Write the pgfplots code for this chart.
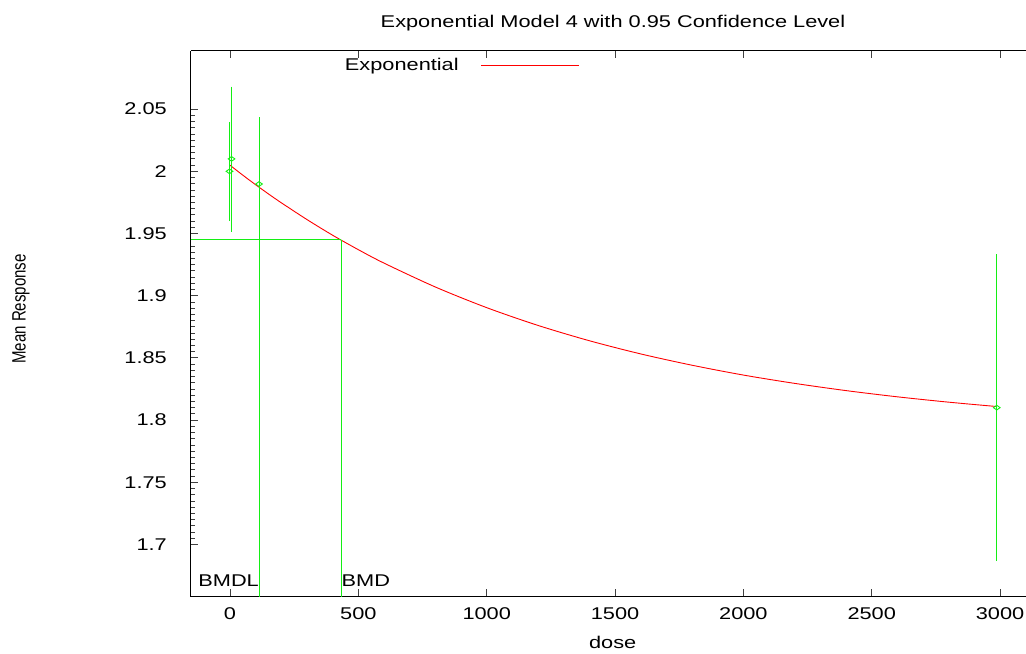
\documentclass[border=0pt]{standalone}
\usepackage{fontspec}
\setmainfont{Liberation Sans}
\newfontfamily\widefont[FakeStretch=1.28]{Liberation Sans}
\newfontfamily\narrowfont[FakeStretch=0.78]{Liberation Sans}
\usepackage{pgfplots}
\pgfplotsset{compat=1.18}
\usetikzlibrary{calc}
\definecolor{gpgreen}{RGB}{20,238,20}
\definecolor{gpred}{RGB}{255,0,0}
\newcommand\wf{\widefont\fontsize{17}{20}\selectfont}

\pgfplotstableread{
x y ep em
-2 2.000 0.031 0.0315
6 2.010 0.0496 0.0503
113 1.9898 0.0452 0.0451
2987 1.810 0.115 0.115
}\obsdata

\begin{document}
\begin{tikzpicture}
\begin{axis}[name=ax, scale only axis, width=835pt, height=546pt,
  xmin=-152, xmax=3101, ymin=1.658, ymax=2.097,
  axis x line=box, axis y line=left,
  axis line style={-, line width=1pt, black},
  tick align=inside,
  xtick={0,500,1000,1500,2000,2500,3000},
  ytick={1.7,1.75,1.8,1.85,1.9,1.95,2,2.05},
  minor y tick num=9,
  major tick length=7.5pt, minor tick length=4.5pt,
  tick style={line width=0.8pt, black!75},
  /pgf/number format/1000 sep={},
  /pgf/number format/assume math mode=true,
  ticklabel style={font=\wf, inner sep=0pt},
  yticklabel style={xshift=-24pt},
  xticklabel style={yshift=-11pt},
  clip mode=individual,
  legend style={at={(0.1844,0.9738)}, anchor=west, draw=none, fill=none,
    inner sep=0pt, outer sep=0pt, font=\wf, nodes={inner sep=0pt}, column sep=22pt},
  legend plot pos=right,
  legend image code/.code={\draw[#1] (0pt,0pt) -- (98pt,0pt);},
]
\addplot[gpred, line width=0.9pt, smooth] coordinates {
(0,2.0049) (50,1.9969) (100,1.9892) (150,1.9818) (200,1.9747) (300,1.9612)
(400,1.9486) (500,1.9370) (600,1.9262) (800,1.9070) (1000,1.8904)
(1200,1.8761) (1400,1.8638) (1600,1.8532) (1800,1.8441) (2000,1.8362)
(2200,1.8295) (2400,1.8237) (2600,1.8187) (2800,1.8144) (2987,1.8109)};
\addlegendentry{Exponential}
\addplot[gpgreen, line width=0.9pt, forget plot] coordinates {(-152,1.945) (434,1.945)};
\addplot[gpgreen, line width=0.9pt, forget plot] coordinates {(113,1.945) (113,1.658)};
\addplot[gpgreen, line width=0.9pt, forget plot] coordinates {(434,1.945) (434,1.658)};
\addplot[gpgreen, only marks, mark=diamond, mark size=2.35pt,
  mark options={xscale=1.9, line width=0.9pt, fill=none}, forget plot,
  error bars/.cd, y dir=both, y explicit,
  error bar style={line width=0.9pt, gpgreen},
  error mark options={gpgreen, line width=0.9pt, mark size=10.5pt}]
  table[x=x, y=y, y error plus=ep, y error minus=em] {\obsdata};
\node[font=\wf, anchor=base east, inner sep=0pt] at (axis cs:113,1.6658) {BMDL};
\node[font=\wf, anchor=base west, inner sep=0pt] at (axis cs:434,1.6658) {BMD};
\end{axis}
\node[font=\wf, anchor=base] at ($(ax.north west)+(422pt,23pt)$) {Exponential Model 4 with 0.95 Confidence Level};
\node[font=\wf, anchor=base] at ($(ax.south west)+(421.7pt,-52.3pt)$) {dose};
\node[font=\narrowfont\fontsize{19.3}{22}\selectfont, rotate=90, anchor=center] at ($(ax.south west)+(-170pt,287.7pt)$) {Mean Response};
\pgfresetboundingbox
\path[use as bounding box] ($(ax.south west)+(-191pt,-57.3pt)$) rectangle ($(ax.north east)+(0pt,50.7pt)$);
\end{tikzpicture}
\end{document}
